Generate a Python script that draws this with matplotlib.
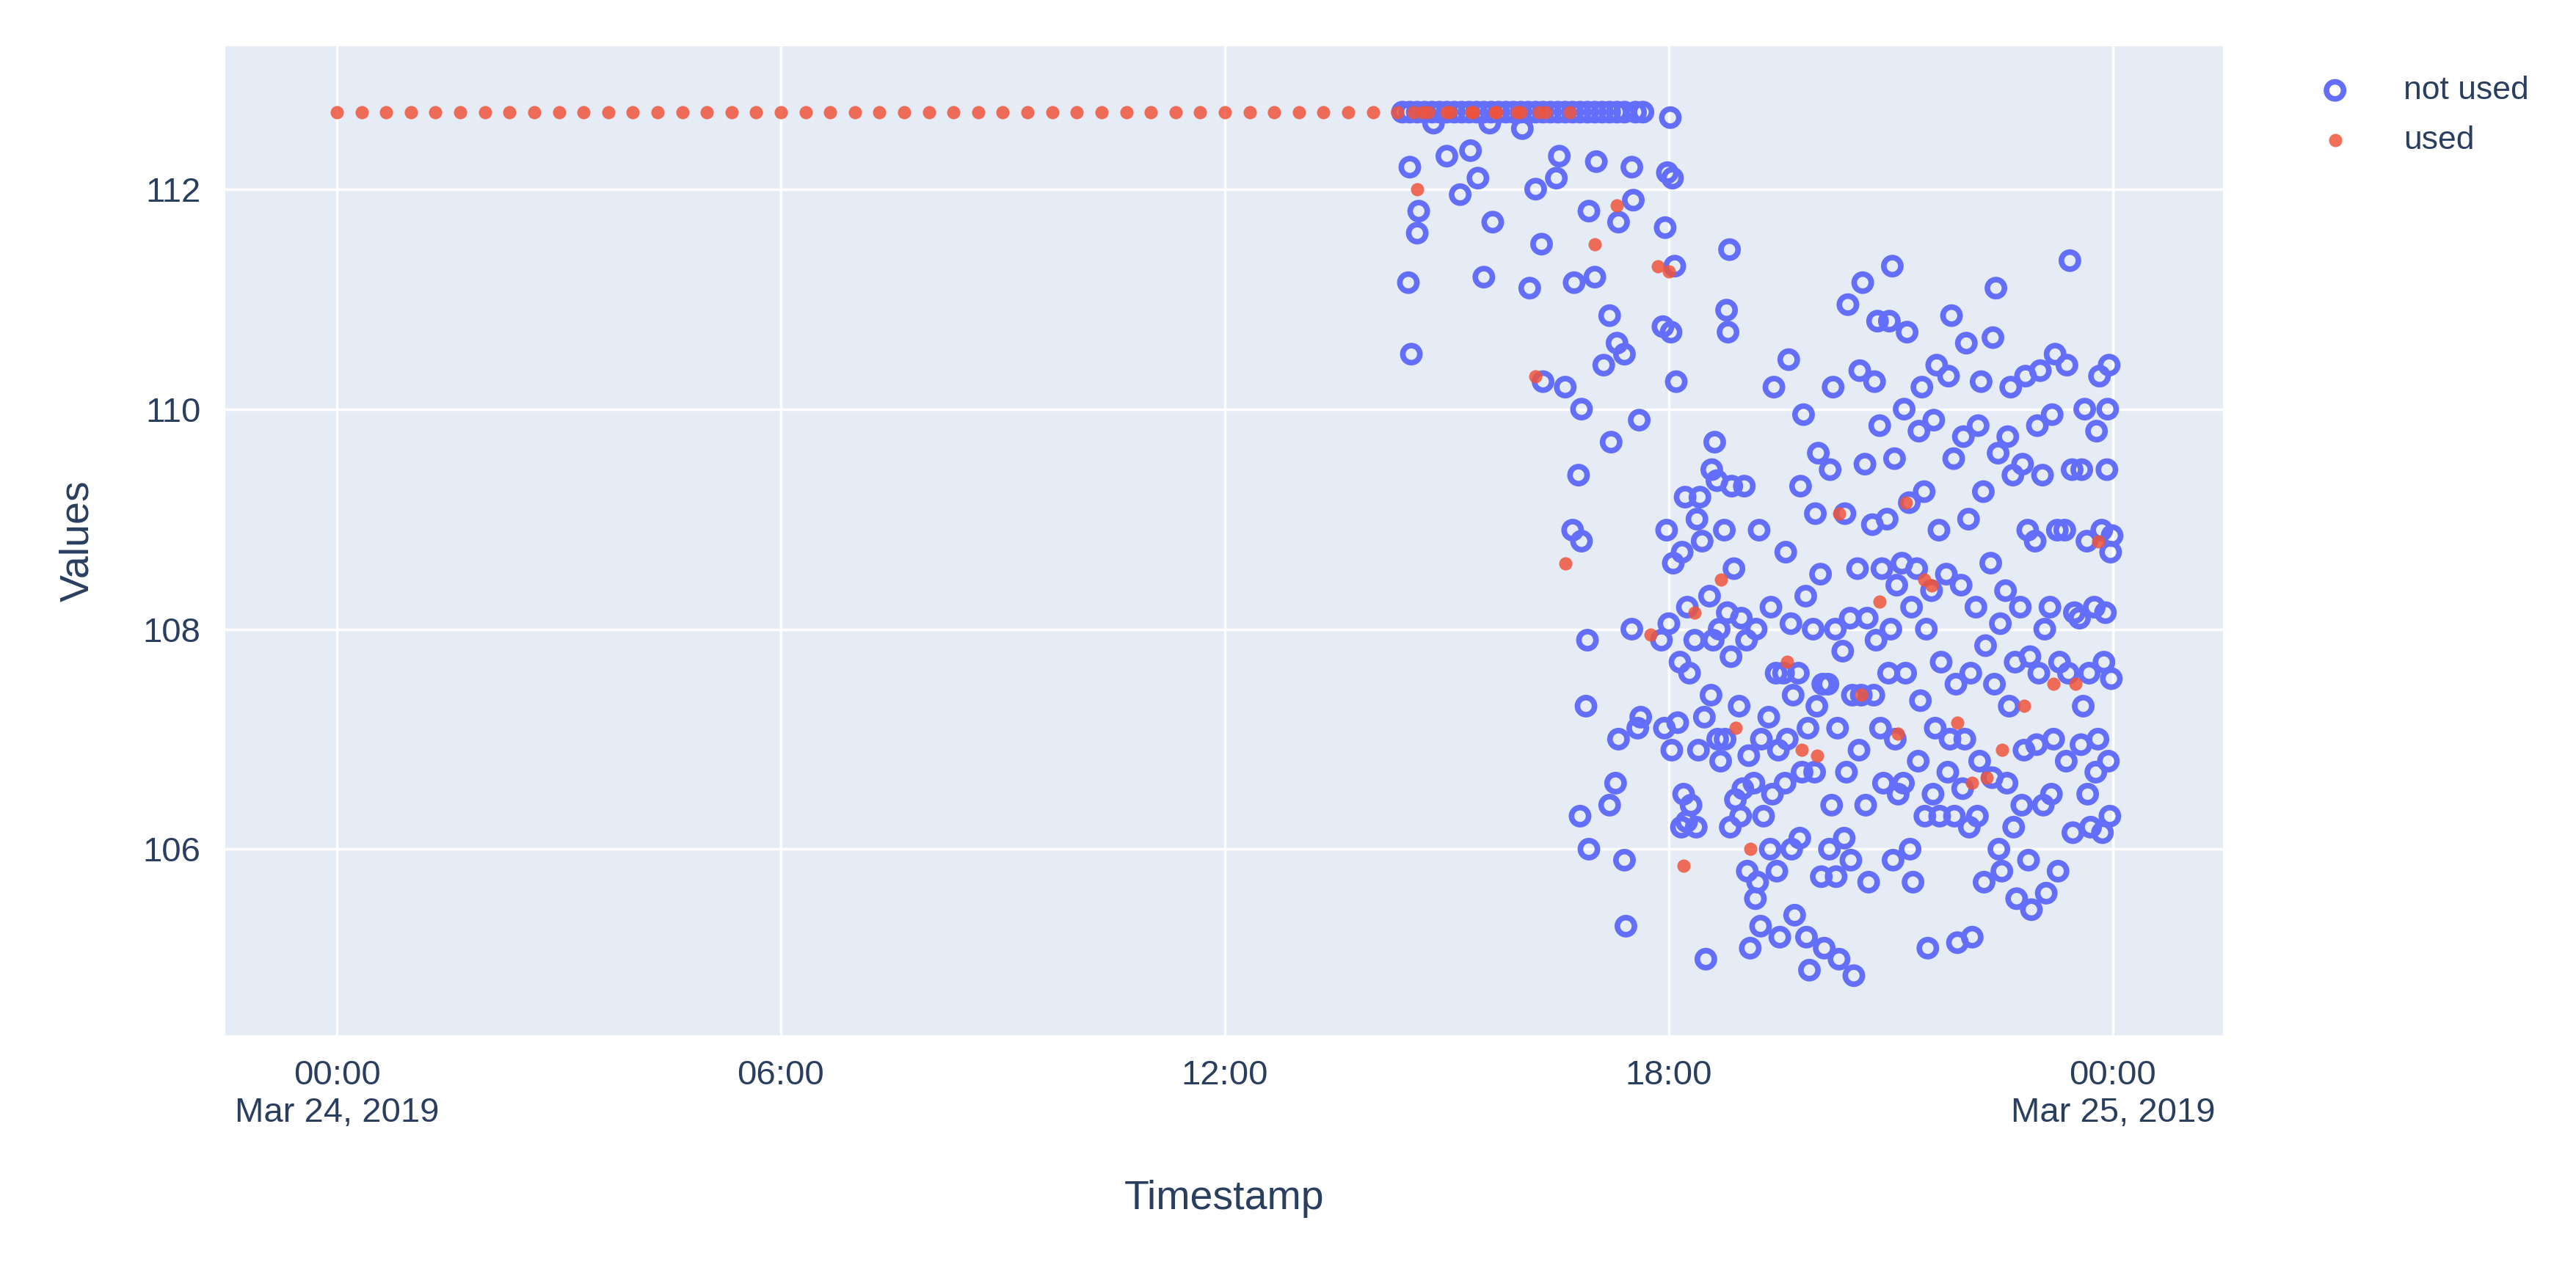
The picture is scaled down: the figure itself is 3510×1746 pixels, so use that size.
import numpy as np
import pandas as pd
import matplotlib.pyplot as plt
import matplotlib.dates as mdates

day0 = pd.Timestamp("2019-03-24 00:00")

# "used" points: regular readings at the ceiling value, then scattered
used_top_times = pd.date_range("2019-03-24 00:00", "2019-03-24 16:40", freq="20min")
used_top_vals = [112.7] * len(used_top_times)
used_hours = [14.55, 14.75, 15.05, 15.35, 15.65, 15.95, 16.25,
              14.6, 16.2, 16.6, 17.0, 17.3, 17.85, 18.0, 17.75, 18.2, 18.35, 18.7, 18.9, 19.1,
              19.6, 19.8, 20.0, 20.3, 20.6, 20.85, 21.1, 21.2, 21.45, 21.55, 21.9, 22.1,
              22.3, 22.5, 22.8, 23.2, 23.5, 23.8]
used_vals = [112.7, 112.7, 112.7, 112.7, 112.7, 112.7, 112.7,
             112.0, 110.3, 108.6, 111.5, 111.85, 111.3, 111.25, 107.95, 105.85, 108.15, 108.45, 107.1, 106.0,
             107.7, 106.9, 106.85, 109.05, 107.4, 108.25, 107.05, 109.15, 108.45, 108.4, 107.15, 106.6,
             106.65, 106.9, 107.3, 107.5, 107.5, 108.8]

# "not used" points
top_hours = [14.4, 14.5, 14.6, 14.7, 14.8, 14.9, 15.0, 15.1, 15.2, 15.3, 15.4, 15.5, 15.6, 15.7,
             15.8, 15.9, 16.0, 16.1, 16.2, 16.3, 16.4, 16.5, 16.6, 16.7, 16.8, 16.9, 17.0, 17.1,
             17.2, 17.3, 17.4, 17.55, 17.65]
notused_hours = [
    14.5, 14.48, 14.52, 14.62, 14.6, 14.82, 15.0, 15.18, 15.32, 15.42, 15.5, 15.62, 15.58, 16.02,
    16.12, 16.2, 16.3, 16.28, 16.52, 16.48, 16.6, 16.72, 16.82, 16.78, 16.92, 17.02, 17.0, 17.12,
    17.2, 16.7, 16.82, 16.9, 16.88, 16.8, 16.92, 17.22, 17.3, 17.32, 17.4, 17.5, 17.52, 17.6,
    17.32, 17.2, 17.28, 17.42, 17.4, 17.5, 17.62, 17.58,
    18.02, 17.98, 18.05, 17.95, 18.08, 17.92, 18.03, 18.1, 17.97, 18.06, 18.0, 17.9, 18.12, 17.94, 18.04,
    18.22, 18.18, 18.25, 18.15, 18.28, 18.2, 18.3, 18.17, 18.24,
    18.42, 18.38, 18.45, 18.35, 18.48, 18.4, 18.37, 18.5,
    18.62, 18.58, 18.65, 18.55, 18.68, 18.6, 18.57, 18.66, 18.7,
    18.82, 18.78, 18.8, 18.85, 18.75, 18.88, 18.79, 18.84, 18.76, 18.9, 18.83,
    19.02, 18.98, 19.05, 18.95, 19.08, 19.0, 18.97, 19.06, 19.1,
    19.22, 19.18, 19.25, 19.15, 19.28, 19.2, 19.17, 19.24,
    19.42, 19.38, 19.45, 19.35, 19.48, 19.4, 19.37, 19.46, 19.5,
    19.62, 19.58, 19.65, 19.55, 19.68, 19.6, 19.57, 19.66, 19.7,
    19.82, 19.78, 19.85, 19.75, 19.88, 19.8, 19.77, 19.86, 19.9,
    20.02, 19.98, 20.05, 19.95, 20.08, 20.0, 19.97, 20.06, 20.1,
    20.22, 20.18, 20.25, 20.15, 20.28, 20.2, 20.17, 20.26, 20.3,
    20.42, 20.38, 20.45, 20.35, 20.48, 20.4, 20.37, 20.46, 20.5,
    20.62, 20.58, 20.65, 20.55, 20.68, 20.6, 20.57, 20.66, 20.7,
    20.82, 20.78, 20.85, 20.75, 20.88, 20.8, 20.77, 20.86, 20.9,
    21.02, 20.98, 21.05, 20.95, 21.08, 21.0, 20.97, 21.06, 21.1, 21.03,
    21.22, 21.18, 21.25, 21.15, 21.28, 21.2, 21.17, 21.26, 21.3,
    21.42, 21.38, 21.45, 21.35, 21.48, 21.4, 21.37, 21.46, 21.5,
    21.62, 21.58, 21.65, 21.55, 21.68, 21.6, 21.57, 21.66,
    21.82, 21.78, 21.85, 21.75, 21.88, 21.8, 21.77, 21.86, 21.9,
    22.02, 21.98, 22.05, 21.95, 22.08, 22.0, 21.97, 22.06, 22.1,
    22.22, 22.18, 22.25, 22.15, 22.28, 22.2, 22.17, 22.26,
    22.42, 22.38, 22.45, 22.35, 22.48, 22.4, 22.37, 22.46, 22.5,
    22.62, 22.58, 22.65, 22.55, 22.68, 22.6, 22.57, 22.66, 22.7,
    22.82, 22.78, 22.85, 22.75, 22.88, 22.8, 22.77, 22.86, 22.9,
    23.02, 22.98, 23.05, 22.95, 23.08, 23.0, 22.97, 23.06, 23.1,
    23.22, 23.18, 23.25, 23.15, 23.28, 23.2, 23.17, 23.26,
    23.42, 23.38, 23.45, 23.35, 23.48, 23.4, 23.37, 23.46,
    23.62, 23.58, 23.65, 23.55, 23.68, 23.6, 23.57, 23.66, 23.7,
    23.82, 23.78, 23.85, 23.75, 23.88, 23.8, 23.77, 23.86,
    23.95, 23.92, 23.97, 23.9, 23.98, 23.94, 23.96, 23.93, 23.99,
]
notused_vals = [
    112.2, 111.15, 110.5, 111.8, 111.6, 112.6, 112.3, 111.95, 112.35, 112.1, 111.2, 111.7, 112.6, 112.55,
    111.1, 112.0, 110.25, 111.5, 112.3, 112.1, 110.2, 111.15, 110.0, 109.4, 111.8, 112.25, 111.2, 110.4,
    110.85, 108.9, 108.8, 107.9, 107.3, 106.3, 106.0, 109.7, 110.6, 111.7, 110.5, 112.2, 111.9, 109.9,
    107.0, 106.4, 106.6, 105.3, 105.9, 108.0, 107.2, 107.1,
    112.65, 112.15, 112.1, 111.65, 111.3, 110.75, 110.7, 110.25, 108.9, 108.6, 108.05, 107.9, 107.15, 107.1, 106.9,
    109.2, 108.7, 108.2, 107.7, 107.6, 106.5, 106.4, 106.2, 106.25,
    109.2, 109.0, 108.8, 107.9, 107.2, 106.9, 106.2, 105.0,
    109.7, 109.45, 109.35, 108.3, 108.0, 107.9, 107.4, 107.0, 106.8,
    111.45, 110.9, 110.7, 109.3, 108.9, 108.55, 108.15, 107.75, 107.0, 106.45, 106.2,
    109.3, 108.1, 107.9, 107.3, 106.85, 106.55, 106.3, 105.8, 105.1,
    108.9, 108.0, 107.0, 106.6, 106.3, 105.7, 105.55, 105.3,
    110.2, 108.2, 107.6, 107.2, 106.9, 106.5, 106.0, 105.8, 105.2,
    110.45, 108.7, 108.05, 107.6, 107.4, 107.0, 106.6, 106.0, 105.4,
    109.95, 109.3, 108.3, 107.6, 107.1, 106.7, 106.1, 105.2, 104.9,
    109.6, 109.05, 108.5, 108.0, 107.5, 107.3, 106.7, 105.75, 105.1,
    110.2, 109.45, 108.0, 107.5, 107.1, 106.4, 106.0, 105.75, 105.0,
    110.95, 109.05, 108.1, 107.8, 107.4, 106.7, 106.1, 105.9, 104.85,
    111.15, 110.35, 109.5, 108.55, 108.1, 107.4, 106.9, 106.4, 105.7,
    110.8, 110.25, 109.85, 108.95, 108.55, 107.9, 107.4, 107.1, 106.6,
    111.3, 110.8, 109.55, 109.0, 108.4, 108.0, 107.6, 107.0, 106.5, 105.9,
    110.7, 110.0, 109.15, 108.6, 108.2, 107.6, 106.6, 106.0, 105.7,
    110.2, 109.8, 109.25, 108.55, 108.0, 107.35, 106.8, 106.3, 105.1,
    110.4, 109.9, 108.9, 108.35, 107.7, 107.1, 106.5, 106.3,
    110.85, 110.3, 109.55, 108.5, 107.5, 107.0, 106.7, 106.3, 105.15,
    110.6, 109.75, 109.0, 108.4, 107.6, 107.0, 106.55, 106.2, 105.2,
    110.25, 109.85, 109.25, 108.2, 107.85, 106.8, 106.3, 105.7,
    111.1, 110.65, 109.6, 108.6, 108.05, 107.5, 106.65, 106.0, 105.8,
    110.2, 109.75, 109.4, 108.35, 107.7, 107.3, 106.6, 106.2, 105.55,
    110.3, 109.5, 108.9, 108.2, 107.75, 106.9, 106.4, 105.9, 105.45,
    110.35, 109.85, 109.4, 108.8, 108.0, 107.6, 106.95, 106.4, 105.6,
    110.5, 109.95, 108.9, 108.2, 107.7, 107.0, 106.5, 105.8,
    111.35, 110.4, 109.45, 108.9, 108.15, 107.6, 106.8, 106.15,
    110.0, 109.45, 108.8, 108.1, 107.6, 107.3, 106.95, 106.5, 106.2,
    110.3, 109.8, 108.9, 108.2, 107.7, 107.0, 106.7, 106.15,
    110.4, 109.45, 108.7, 108.15, 107.55, 106.8, 106.3, 110.0, 108.85,
]

blue = "#636EFA"
orange = "#EF553B"
txt = "#2a3f5f"
plt.rcParams["font.family"] = ["Liberation Sans", "DejaVu Sans"]

def to_time(hours):
    return [day0 + pd.Timedelta(hours=h) for h in hours]

fig = plt.figure(figsize=(35.1, 17.46), dpi=100)
ax = fig.add_axes([0.0874, 0.192, 0.7756, 0.772])
ax.set_facecolor("#E5ECF6")

ax.scatter(to_time(top_hours), [112.7] * len(top_hours), s=280, facecolors="none",
           edgecolors=blue, linewidths=5.5, zorder=3)
ax.scatter(to_time(notused_hours), notused_vals, s=280, facecolors="none",
           edgecolors=blue, linewidths=5.5, zorder=3, label="not used")
ax.scatter(used_top_times, used_top_vals, s=170, color=orange, alpha=0.85, linewidths=0, zorder=4)
ax.scatter(to_time(used_hours), used_vals, s=170, color=orange, alpha=0.85, linewidths=0, zorder=4,
           label="used")

ax.set_xlim(day0 - pd.Timedelta(hours=1.51), day0 + pd.Timedelta(hours=25.49))
ax.set_ylim(104.31, 113.3)
ax.set_yticks([106, 108, 110, 112])
ticks = [day0 + pd.Timedelta(hours=h) for h in [0, 6, 12, 18, 24]]
ax.set_xticks(ticks)
ax.set_xticklabels(["00:00\nMar 24, 2019", "06:00", "12:00", "18:00", "00:00\nMar 25, 2019"])
ax.grid(color="white", linewidth=2.5)
ax.set_axisbelow(True)
for s in ax.spines.values():
    s.set_visible(False)
ax.tick_params(length=0, labelsize=34, colors=txt, pad=24)
ax.set_xlabel("Timestamp", fontsize=40, color=txt, labelpad=50)
ax.set_ylabel("Values", fontsize=40, color=txt, labelpad=45)

leg = ax.legend(loc="upper left", bbox_to_anchor=(1.025, 1.0), frameon=False, fontsize=32,
                labelcolor=txt, handletextpad=1.1, labelspacing=0.6, markerscale=1.0)

fig.savefig("out.png", dpi=100)
